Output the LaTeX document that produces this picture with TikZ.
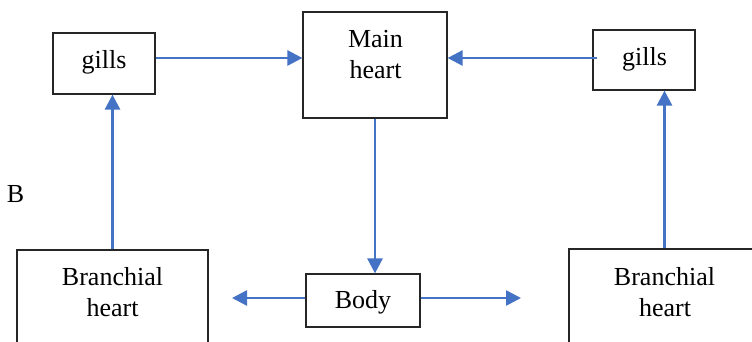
\documentclass[tikz,border=0pt]{standalone}
\usepackage{fontspec}
\setmainfont{Liberation Serif}
\usetikzlibrary{arrows.meta}
\definecolor{flow}{HTML}{4472C4}
\begin{document}
\begin{tikzpicture}[x=1pt,y=-1pt,
  box/.style={draw=black!85, line width=1.2pt, rectangle, inner sep=0pt},
  lbl/.style={anchor=base, inner sep=0pt, font=\fontsize{26}{31}\selectfont},
  arr/.style={draw=flow, line width=2.6pt, -{Triangle[length=15pt,width=15pt]}}
]
\useasboundingbox (0,0) rectangle (752,341);
\clip (0,0) rectangle (752,341);

% boxes
\node[box, minimum width=102pt, minimum height=61pt]  (lg) at (104,63.5) {};
\node[box, minimum width=144pt, minimum height=106pt] (mh) at (375,65) {};
\node[box, minimum width=102pt, minimum height=60pt]  (rg) at (644,60) {};
\node[box, minimum width=191pt, minimum height=130pt] (lb) at (112.5,315) {};
\node[box, minimum width=191pt, minimum height=130pt] (rb) at (664.5,314) {};
\node[box, minimum width=114pt, minimum height=53pt]  (bd) at (363,300.5) {};

% texts
\node[lbl] (lgt)  at (104,68)    {gills};
\node[lbl] (mht1) at (375.5,47)  {Main};
\node[lbl] (mht2) at (375.5,78)  {heart};
\node[lbl] (rgt)  at (644.5,65)  {gills};
\node[lbl] (lbt1) at (112.5,285) {Branchial};
\node[lbl] (lbt2) at (112.5,316) {heart};
\node[lbl] (rbt1) at (664.5,285) {Branchial};
\node[lbl] (rbt2) at (665,316)   {heart};
\node[lbl] (bdt)  at (363,308)   {Body};
\node[lbl] (bt)   at (15.5,202)  {B};

% flow arrows
\coordinate (lend) at (232,298);
\coordinate (rend) at (521,298);
\draw[arr] ([yshift=5.5pt]lg.east) -- ([yshift=7pt]mh.west);
\draw[arr] ([xshift=5pt,yshift=2pt]rg.west) -- ([yshift=7pt]mh.east);
\draw[arr] (lb.north) -- (lb.north |- lg.south);
\draw[arr] (rb.north) -- (rb.north |- rg.south);
\draw[arr] (mh.south) -- (mh.south |- bd.north);
\draw[arr] (bd.west |- lend) -- (lend);
\draw[arr] (bd.east |- rend) -- (rend);
\end{tikzpicture}
\end{document}
